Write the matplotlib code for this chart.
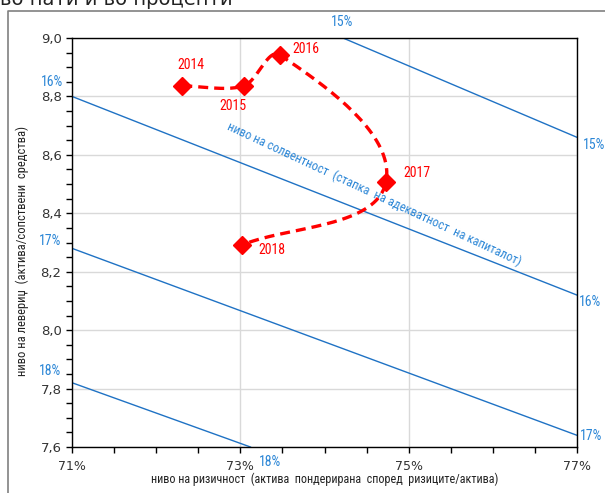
import numpy as np
import matplotlib
matplotlib.use("Agg")
import matplotlib.pyplot as plt
from matplotlib.lines import Line2D
from matplotlib import font_manager

# ---- data ----
years = ["2014", "2015", "2016", "2017", "2018"]
risk = [72.31, 73.04, 73.47, 74.73, 73.02]        # % risk-weighted assets / assets
leverage = [8.836, 8.836, 8.942, 8.507, 8.291]    # assets / own funds

iso_levels = ["15%", "16%", "17%", "18%"]
iso_x0 = [74.22, 71.0, 71.0, 71.0]
iso_y0 = [9.00, 8.80, 8.28, 7.82]
iso_x1 = [77.0, 77.0, 77.0, 73.12]
iso_y1 = [8.66, 8.12, 7.64, 7.60]

x_ticks = [71, 73, 75, 77]
x_ticklabels = ["71%", "73%", "75%", "77%"]
y_ticks = [7.6, 7.8, 8.0, 8.2, 8.4, 8.6, 8.8, 9.0]
y_ticklabels = ["7,6", "7,8", "8,0", "8,2", "8,4", "8,6", "8,8", "9,0"]

title_text = "во пати и во проценти"
xlabel = "ниво на ризичност  (актива  пондерирана  според  ризиците/актива)"
ylabel = "ниво на левериџ  (актива/сопствени  средства)"
iso_caption = "ниво на солвентност  (стапка  на адекватност  на капиталот)"

BLUE = "#1f72c4"
LBLUE = "#2b86d6"
RED = "#ff0000"

# pick a narrow font if one is installed
names = {f.name for f in font_manager.fontManager.ttflist}
narrow_props = None
for cand in ["Liberation Sans Narrow", "Roboto Condensed", "Open Sans Condensed",
             "DejaVu Sans Condensed"]:
    if cand in names:
        narrow_props = dict(family=cand)
        break
if narrow_props is None:
    cond = [f for f in font_manager.fontManager.ttflist
            if "condensed" in str(f.stretch).lower() or "Condensed" in f.fname
            or "Narrow" in f.fname]
    if cond:
        narrow_props = dict(family=cond[0].name, stretch="condensed")
SMALL_SCALE = 1.0
if narrow_props is None:
    narrow_props = dict(family="DejaVu Sans")
    SMALL_SCALE = 0.8


def ntext(size):
    return dict(fontsize=size * SMALL_SCALE, **narrow_props)


fig = plt.figure(figsize=(6.05, 4.93), dpi=100)
ax = fig.add_axes([72 / 605, 1 - 447 / 493, (577 - 72) / 605, (447 - 38) / 493])

ax.set_xlim(71, 77)
ax.set_ylim(7.6, 9.0)


def smooth_path(xs, ys, k=0.3, n=40):
    # smoothed line computed in display space (like a spreadsheet smoothed line)
    P = ax.transData.transform(np.column_stack([xs, ys]))
    m = len(P)
    out = []

    def tangent(i):
        a = P[i - 1] if i > 0 else P[i]
        b = P[i + 1] if i + 1 < m else P[i]
        d = b - a
        return d / (np.hypot(*d) + 1e-12)

    for i in range(m - 1):
        p1, p2 = P[i], P[i + 1]
        L = np.hypot(*(p2 - p1))
        c1 = p1 + tangent(i) * L * k
        c2 = p2 - tangent(i + 1) * L * k
        t = np.linspace(0, 1, n)[:, None]
        seg = ((1 - t) ** 3) * p1 + 3 * ((1 - t) ** 2) * t * c1 + 3 * (1 - t) * t ** 2 * c2 + t ** 3 * p2
        out.append(seg)
    out = ax.transData.inverted().transform(np.vstack(out))
    return out[:, 0], out[:, 1]


ax.set_xticks(x_ticks)
ax.set_xticklabels(x_ticklabels, fontsize=9, color="#333333")
ax.set_yticks(y_ticks)
ax.set_yticklabels(y_ticklabels, fontsize=9.5, color="#333333")
ax.set_xticks(np.arange(71, 77.01, 0.5), minor=True)
ax.set_yticks(np.arange(7.6, 9.001, 0.05), minor=True)
ax.grid(True, which="major", color="#d9d9d9", lw=1)
ax.set_axisbelow(True)
ax.tick_params(which="both", direction="out", length=4, width=1, color="black")
ax.tick_params(axis="x", which="major", pad=5)
for s in ax.spines.values():
    s.set_color("black")
    s.set_linewidth(1)

# iso-solvency lines
for x0, y0, x1, y1 in zip(iso_x0, iso_y0, iso_x1, iso_y1):
    ax.plot([x0, x1], [y0, y1], color=BLUE, lw=1, zorder=2)

lab_pos = [
    ("15%", 74.21, 9.055), ("15%", 77.2, 8.634),
    ("16%", 70.76, 8.85), ("16%", 77.15, 8.096),
    ("17%", 70.74, 8.305), ("17%", 77.17, 7.637),
    ("18%", 70.74, 7.86), ("18%", 73.35, 7.548),
]
for t, x, y in lab_pos:
    ax.text(x, y, t, color=LBLUE, ha="center", va="center", clip_on=False, **ntext(10))

ax.text(74.59, 8.466, iso_caption, color=LBLUE, rotation=-25,
        rotation_mode="anchor", ha="center", va="center", **ntext(9))

# trajectory
sx, sy = smooth_path(risk, leverage)
ax.plot(sx, sy, color=RED, lw=2.4, ls=(0, (3, 1.8)), zorder=3)
ax.plot(risk, leverage, ls="none", marker="D", ms=9, color=RED, zorder=4)

year_off = [(0.10, 0.07), (-0.13, -0.07), (0.31, 0.02), (0.37, 0.03), (0.35, -0.015)]
for yr, x, y, (dx, dy) in zip(years, risk, leverage, year_off):
    ax.text(x + dx, y + dy, yr, color=RED, ha="center", va="center", **ntext(10))

ax.set_xlabel(xlabel, color="#222222", **ntext(8.7))
ax.xaxis.set_label_coords(0.5, -32 / 409, transform=ax.transAxes)
ax.xaxis.label.set_va("center")
ax.set_ylabel(ylabel, color="#222222", **ntext(9))
ax.yaxis.set_label_coords(-50 / 505, 0.48, transform=ax.transAxes)
ax.yaxis.label.set_va("center")

# figure frame and clipped title
fig.add_artist(Line2D([8 / 605, 8 / 605, 1.0], [0.0, 1 - 11 / 493, 1 - 11 / 493],
                      transform=fig.transFigure, color="#808080", lw=1.2))
fig.text(0.0, 1 - 5 / 493, title_text, fontsize=14, va="baseline", ha="left", color="#222222")

fig.savefig("out.png", dpi=100)
